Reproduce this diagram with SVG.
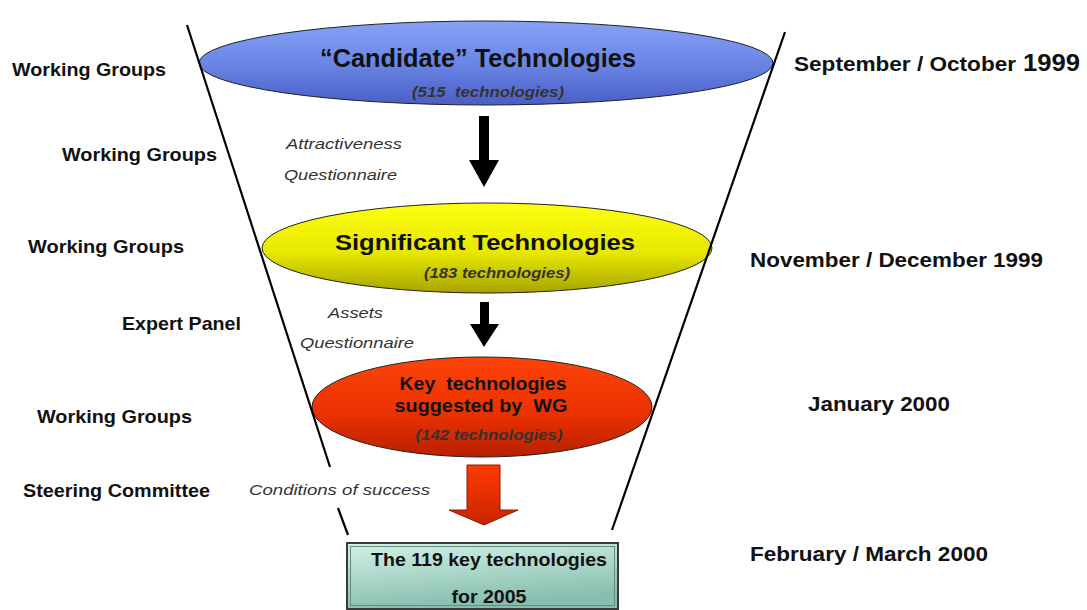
<svg xmlns="http://www.w3.org/2000/svg" width="1087" height="610" viewBox="0 0 1087 610">
<style>
text{white-space:pre}
.lbl{font-family:"Liberation Sans",Arial,sans-serif;font-weight:bold;font-size:18.5px;fill:#111}
.rl{font-family:"Liberation Sans",Arial,sans-serif;font-weight:bold;font-size:20px;fill:#111}
.it{font-family:"Liberation Sans",Arial,sans-serif;font-style:italic;font-size:14px;fill:#333}
.t1{font-family:"Liberation Sans",Arial,sans-serif;font-weight:bold;fill:#111;text-anchor:middle}
.sub{font-family:"Liberation Sans",Arial,sans-serif;font-weight:bold;font-style:italic;font-size:14px;fill:#333;text-anchor:middle}
.fl{stroke:#000;stroke-width:2.2;fill:none}
.ell{stroke:#222;stroke-width:1}
</style>
<defs>
<linearGradient id="gb" x1="0" y1="0" x2="0" y2="1">
<stop offset="0" stop-color="#86A2F6"/><stop offset="0.5" stop-color="#6A86E6"/><stop offset="1" stop-color="#4A5EC6"/>
</linearGradient>
<linearGradient id="gy" x1="0" y1="0" x2="0" y2="1">
<stop offset="0" stop-color="#FFFF10"/><stop offset="0.55" stop-color="#E8E800"/><stop offset="1" stop-color="#A8A400"/>
</linearGradient>
<linearGradient id="gr" x1="0" y1="0" x2="0" y2="1">
<stop offset="0" stop-color="#FF440A"/><stop offset="0.6" stop-color="#E83000"/><stop offset="1" stop-color="#B82000"/>
</linearGradient>
<linearGradient id="ga" x1="0" y1="0" x2="0" y2="1">
<stop offset="0" stop-color="#FF3A00"/><stop offset="1" stop-color="#C82400"/>
</linearGradient>
<linearGradient id="gbox" x1="0" y1="0" x2="0.3" y2="1">
<stop offset="0" stop-color="#D2F2E6"/><stop offset="1" stop-color="#86BDAE"/>
</linearGradient>
</defs>

<g id="node-candidate">
<ellipse class="ell" cx="486" cy="63" rx="287" ry="42" fill="url(#gb)"/>
<text class="t1" x="478" y="67" font-size="25" textLength="316" lengthAdjust="spacingAndGlyphs">“Candidate” Technologies</text>
<text class="sub" x="488" y="97" textLength="152" lengthAdjust="spacingAndGlyphs">(515  technologies)</text>
</g>

<g id="node-significant">
<ellipse class="ell" cx="487" cy="248" rx="225" ry="45" fill="url(#gy)"/>
<text class="t1" x="485" y="250" font-size="22" textLength="300" lengthAdjust="spacingAndGlyphs">Significant Technologies</text>
<text class="sub" x="497" y="278" textLength="146" lengthAdjust="spacingAndGlyphs">(183 technologies)</text>
</g>

<g id="node-key">
<ellipse class="ell" cx="482" cy="407" rx="170" ry="50" fill="url(#gr)"/>
<text class="t1" x="483" y="390" font-size="18" textLength="167" lengthAdjust="spacingAndGlyphs">Key  technologies</text>
<text class="t1" x="481" y="412" font-size="18" textLength="173" lengthAdjust="spacingAndGlyphs">suggested by  WG</text>
<text class="sub" x="489" y="440" textLength="147" lengthAdjust="spacingAndGlyphs">(142 technologies)</text>
</g>

<g id="node-final">
<rect x="347" y="543" width="271" height="66" fill="url(#gbox)" stroke="#3a3a3a" stroke-width="2"/>
<rect x="350.5" y="546.5" width="264" height="59" fill="none" stroke="#6a8a80" stroke-width="1"/>
<text class="t1" x="489" y="566" font-size="18" textLength="236" lengthAdjust="spacingAndGlyphs">The 119 key technologies</text>
<text class="t1" x="489" y="603" font-size="18" textLength="75" lengthAdjust="spacingAndGlyphs">for 2005</text>
</g>

<g id="connectors">
<line class="fl" x1="187" y1="25" x2="330" y2="467"/>
<line class="fl" x1="338" y1="508" x2="348" y2="535"/>
<line class="fl" x1="785" y1="32" x2="612" y2="530"/>
<polygon points="479,116 489,116 489,160 499,160 484,187 469,160 479,160" fill="#000"/>
<polygon points="480,302 489,302 489,324 499,324 484,347 470,324 480,324" fill="#000"/>
<polygon points="467,465 500,465 500,510 518,510 484,525 449,510 467,510" fill="url(#ga)" stroke="#8a1a00" stroke-width="1"/>
</g>

<g id="labels-left">
<text class="lbl" x="12" y="76" textLength="154" lengthAdjust="spacingAndGlyphs">Working Groups</text>
<text class="lbl" x="62" y="161" textLength="155" lengthAdjust="spacingAndGlyphs">Working Groups</text>
<text class="lbl" x="28" y="253" textLength="156" lengthAdjust="spacingAndGlyphs">Working Groups</text>
<text class="lbl" x="122" y="330" textLength="119" lengthAdjust="spacingAndGlyphs">Expert Panel</text>
<text class="lbl" x="37" y="423" textLength="155" lengthAdjust="spacingAndGlyphs">Working Groups</text>
<text class="lbl" x="23" y="497" textLength="187" lengthAdjust="spacingAndGlyphs">Steering Committee</text>
</g>

<g id="labels-mid">
<text class="it" x="286" y="149" textLength="116" lengthAdjust="spacingAndGlyphs">Attractiveness</text>
<text class="it" x="284" y="180" textLength="113" lengthAdjust="spacingAndGlyphs">Questionnaire</text>
<text class="it" x="328" y="318" textLength="55" lengthAdjust="spacingAndGlyphs">Assets</text>
<text class="it" x="300" y="348" textLength="114" lengthAdjust="spacingAndGlyphs">Questionnaire</text>
<text class="it" x="249" y="495" textLength="181" lengthAdjust="spacingAndGlyphs">Conditions of success</text>
</g>

<g id="labels-right">
<text class="rl" x="794" y="71"><tspan textLength="222" lengthAdjust="spacingAndGlyphs">September / October</tspan><tspan x="1023" font-size="23" textLength="57" lengthAdjust="spacingAndGlyphs">1999</tspan></text>
<text class="rl" x="750" y="267" textLength="293" lengthAdjust="spacingAndGlyphs">November / December 1999</text>
<text class="rl" x="808" y="411" textLength="142" lengthAdjust="spacingAndGlyphs">January 2000</text>
<text class="rl" x="750" y="561" textLength="238" lengthAdjust="spacingAndGlyphs">February / March 2000</text>
</g>
</svg>
